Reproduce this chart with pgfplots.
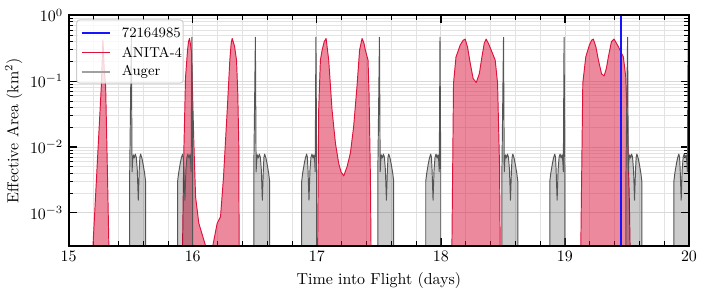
\documentclass[border=0pt]{standalone}
\usepackage{pgfplots}
\pgfplotsset{compat=1.18}
\definecolor{crimson}{RGB}{220,20,60}
\definecolor{evblue}{RGB}{20,20,255}
\definecolor{augerleg}{RGB}{160,160,160}
\definecolor{augerline}{RGB}{85,85,85}
\definecolor{legframe}{RGB}{205,205,205}
\begin{document}
\begin{tikzpicture}
\path (-42.6pt,-33.2pt) rectangle (400.7pt,154.2pt);
\begin{axis}[
  at={(0,0)}, anchor=south west,
  scale only axis, width=389.4pt, height=144.5pt,
  xmin=15, xmax=20, ymode=log, ymin=3.1623e-4, ymax=1,
  xtick={15,16,17,18,19,20}, minor x tick num=4,
  ytick={1e-3,1e-2,1e-1,1},
  tick align=inside, xtick pos=both, ytick pos=both,
  major tick length=5pt, minor tick length=3pt,
  every major tick/.append style={line width=0.8pt, black},
  every minor tick/.append style={line width=0.5pt, black},
  grid=both, major grid style={gray!30, line width=0.5pt}, minor grid style={gray!22, line width=0.5pt},
  axis line style={line width=1.3pt},
  xlabel={Time into Flight (days)}, ylabel={Effective Area (km$^2$)},
  ylabel style={yshift=-2pt},
]
% ANITA-4
\addplot[forget plot, draw=crimson, line width=0.6pt, fill=crimson, fill opacity=0.5, line join=round] coordinates {(15.196,1e-5)(15.196,3.1623e-4)(15.263,0.0832)(15.276,0.427)(15.287,0.148)(15.298,0.0832)(15.312,0.00447)(15.324,3.1623e-4)(15.324,1e-5)} --cycle;
\addplot[forget plot, draw=crimson, line width=0.6pt, fill=crimson, fill opacity=0.5, line join=round] coordinates {(15.918,1e-5)(15.918,3.1623e-4)(15.928,0.00813)(15.942,0.115)(15.958,0.295)(15.966,0.40)(15.974,0.447)(15.982,0.36)(15.990,0.275)(16.009,0.0115)(16.023,0.00174)(16.049,0.000692)(16.103,3.1623e-4)(16.103,1e-5)} --cycle;
\addplot[forget plot, draw=crimson, line width=0.6pt, fill=crimson, fill opacity=0.5, line join=round] coordinates {(16.162,1e-5)(16.162,3.1623e-4)(16.197,0.000692)(16.224,0.000871)(16.248,0.00347)(16.278,0.0363)(16.299,0.209)(16.310,0.38)(16.318,0.447)(16.326,0.40)(16.337,0.339)(16.353,0.209)(16.363,0.0661)(16.371,0.0115)(16.374,3.1623e-4)(16.374,1e-5)} --cycle;
\addplot[forget plot, draw=crimson, line width=0.6pt, fill=crimson, fill opacity=0.5, line join=round] coordinates {(17.007,1e-5)(17.007,3.1623e-4)(17.015,0.0363)(17.029,0.209)(17.043,0.299)(17.060,0.40)(17.075,0.447)(17.096,0.209)(17.123,0.0363)(17.150,0.0115)(17.176,0.00569)(17.195,0.0042)(17.217,0.00363)(17.244,0.00501)(17.271,0.00813)(17.297,0.0204)(17.324,0.0832)(17.345,0.299)(17.365,0.447)(17.380,0.38)(17.391,0.299)(17.413,0.209)(17.421,0.0661)(17.432,0.00355)(17.437,3.1623e-4)(17.437,1e-5)} --cycle;
\addplot[forget plot, draw=crimson, line width=0.6pt, fill=crimson, fill opacity=0.5, line join=round] coordinates {(18.089,1e-5)(18.089,3.1623e-4)(18.102,0.0933)(18.122,0.234)(18.156,0.355)(18.180,0.42)(18.196,0.437)(18.215,0.33)(18.237,0.186)(18.260,0.11)(18.285,0.0955)(18.310,0.13)(18.331,0.234)(18.350,0.38)(18.365,0.437)(18.385,0.37)(18.405,0.299)(18.438,0.209)(18.457,0.0933)(18.473,0.00501)(18.478,3.1623e-4)(18.478,1e-5)} --cycle;
\addplot[forget plot, draw=crimson, line width=0.6pt, fill=crimson, fill opacity=0.5, line join=round] coordinates {(19.128,1e-5)(19.128,3.1623e-4)(19.144,0.0933)(19.168,0.234)(19.197,0.355)(19.215,0.42)(19.229,0.437)(19.250,0.33)(19.270,0.209)(19.295,0.13)(19.316,0.120)(19.335,0.16)(19.350,0.234)(19.375,0.40)(19.396,0.437)(19.431,0.335)(19.471,0.234)(19.490,0.117)(19.506,0.0162)(19.519,0.00155)(19.525,3.1623e-4)(19.525,1e-5)} --cycle;
% Auger
\addplot[forget plot, draw=augerline, line width=0.6pt, fill=black, fill opacity=0.2, line join=round] coordinates {(15.492,1e-5)(15.492,0.0042)(15.505,0.466)(15.511,0.0042)(15.515,0.0060)(15.521,0.0076)(15.529,0.0068)(15.537,0.0078)(15.545,0.0070)(15.553,0.0045)(15.561,0.00155)(15.569,0.0045)(15.574,0.0070)(15.580,0.0078)(15.590,0.0068)(15.599,0.0056)(15.612,0.0040)(15.620,0.0030)(15.620,1e-5)} --cycle;
\addplot[forget plot, draw=augerline, line width=0.6pt, fill=black, fill opacity=0.2, line join=round] coordinates {(16.492,1e-5)(16.492,0.0042)(16.505,0.466)(16.511,0.0042)(16.515,0.0060)(16.521,0.0076)(16.529,0.0068)(16.537,0.0078)(16.545,0.0070)(16.553,0.0045)(16.561,0.00155)(16.569,0.0045)(16.574,0.0070)(16.580,0.0078)(16.590,0.0068)(16.599,0.0056)(16.612,0.0040)(16.620,0.0030)(16.620,1e-5)} --cycle;
\addplot[forget plot, draw=augerline, line width=0.6pt, fill=black, fill opacity=0.2, line join=round] coordinates {(17.492,1e-5)(17.492,0.0042)(17.505,0.466)(17.511,0.0042)(17.515,0.0060)(17.521,0.0076)(17.529,0.0068)(17.537,0.0078)(17.545,0.0070)(17.553,0.0045)(17.561,0.00155)(17.569,0.0045)(17.574,0.0070)(17.580,0.0078)(17.590,0.0068)(17.599,0.0056)(17.612,0.0040)(17.620,0.0030)(17.620,1e-5)} --cycle;
\addplot[forget plot, draw=augerline, line width=0.6pt, fill=black, fill opacity=0.2, line join=round] coordinates {(18.492,1e-5)(18.492,0.0042)(18.505,0.466)(18.511,0.0042)(18.515,0.0060)(18.521,0.0076)(18.529,0.0068)(18.537,0.0078)(18.545,0.0070)(18.553,0.0045)(18.561,0.00155)(18.569,0.0045)(18.574,0.0070)(18.580,0.0078)(18.590,0.0068)(18.599,0.0056)(18.612,0.0040)(18.620,0.0030)(18.620,1e-5)} --cycle;
\addplot[forget plot, draw=augerline, line width=0.6pt, fill=black, fill opacity=0.2, line join=round] coordinates {(19.492,1e-5)(19.492,0.0042)(19.505,0.466)(19.511,0.0042)(19.515,0.0060)(19.521,0.0076)(19.529,0.0068)(19.537,0.0078)(19.545,0.0070)(19.553,0.0045)(19.561,0.00155)(19.569,0.0045)(19.574,0.0070)(19.580,0.0078)(19.590,0.0068)(19.599,0.0056)(19.612,0.0040)(19.620,0.0030)(19.620,1e-5)} --cycle;
\addplot[forget plot, draw=augerline, line width=0.6pt, fill=black, fill opacity=0.2, line join=round] coordinates {(15.878,1e-5)(15.878,0.0030)(15.886,0.0040)(15.899,0.0056)(15.908,0.0068)(15.918,0.0078)(15.924,0.0070)(15.929,0.0045)(15.937,0.00155)(15.945,0.0045)(15.953,0.0070)(15.961,0.0078)(15.969,0.0068)(15.977,0.0076)(15.983,0.0060)(15.987,0.0042)(15.993,0.466)(15.999,0.0042)(15.999,1e-5)} --cycle;
\addplot[forget plot, draw=augerline, line width=0.6pt, fill=black, fill opacity=0.2, line join=round] coordinates {(16.878,1e-5)(16.878,0.0030)(16.886,0.0040)(16.899,0.0056)(16.908,0.0068)(16.918,0.0078)(16.924,0.0070)(16.929,0.0045)(16.937,0.00155)(16.945,0.0045)(16.953,0.0070)(16.961,0.0078)(16.969,0.0068)(16.977,0.0076)(16.983,0.0060)(16.987,0.0042)(16.993,0.466)(16.999,0.0042)(16.999,1e-5)} --cycle;
\addplot[forget plot, draw=augerline, line width=0.6pt, fill=black, fill opacity=0.2, line join=round] coordinates {(17.878,1e-5)(17.878,0.0030)(17.886,0.0040)(17.899,0.0056)(17.908,0.0068)(17.918,0.0078)(17.924,0.0070)(17.929,0.0045)(17.937,0.00155)(17.945,0.0045)(17.953,0.0070)(17.961,0.0078)(17.969,0.0068)(17.977,0.0076)(17.983,0.0060)(17.987,0.0042)(17.993,0.466)(17.999,0.0042)(17.999,1e-5)} --cycle;
\addplot[forget plot, draw=augerline, line width=0.6pt, fill=black, fill opacity=0.2, line join=round] coordinates {(18.878,1e-5)(18.878,0.0030)(18.886,0.0040)(18.899,0.0056)(18.908,0.0068)(18.918,0.0078)(18.924,0.0070)(18.929,0.0045)(18.937,0.00155)(18.945,0.0045)(18.953,0.0070)(18.961,0.0078)(18.969,0.0068)(18.977,0.0076)(18.983,0.0060)(18.987,0.0042)(18.993,0.466)(18.999,0.0042)(18.999,1e-5)} --cycle;
\addplot[forget plot, draw=augerline, line width=0.6pt, fill=black, fill opacity=0.2, line join=round] coordinates {(19.878,1e-5)(19.878,0.0030)(19.886,0.0040)(19.899,0.0056)(19.908,0.0068)(19.918,0.0078)(19.924,0.0070)(19.929,0.0045)(19.937,0.00155)(19.945,0.0045)(19.953,0.0070)(19.961,0.0078)(19.969,0.0068)(19.977,0.0076)(19.983,0.0060)(19.987,0.0042)(19.993,0.466)(19.999,0.0042)(19.999,1e-5)} --cycle;
% event
\addplot[forget plot, draw=evblue, line width=1pt] coordinates {(19.450,3.1623e-4)(19.450,1)};
\end{axis}
% frame and legend, on top of the plots
\draw[line width=1.3pt, draw=black] (0pt,0pt) rectangle (389.4pt,144.5pt);
\draw[draw=legframe, line width=0.6pt, fill=white, fill opacity=0.8, rounded corners=2pt] (5.0pt,141.7pt) rectangle (71.9pt,102.0pt);
\draw[draw=evblue, line width=1pt] (8.1pt,133.3pt) -- (25.9pt,133.3pt);
\draw[draw=crimson, line width=1pt] (8.1pt,121.2pt) -- (25.9pt,121.2pt);
\draw[draw=augerleg, line width=1pt] (8.1pt,108.9pt) -- (25.9pt,108.9pt);
\node[anchor=west, font=\small, inner sep=0pt] at (33.2pt,133.3pt) {72164985};
\node[anchor=west, font=\small, inner sep=0pt] at (33.2pt,121.2pt) {ANITA-4};
\node[anchor=west, font=\small, inner sep=0pt] at (33.2pt,108.9pt) {Auger};
\end{tikzpicture}
\end{document}
